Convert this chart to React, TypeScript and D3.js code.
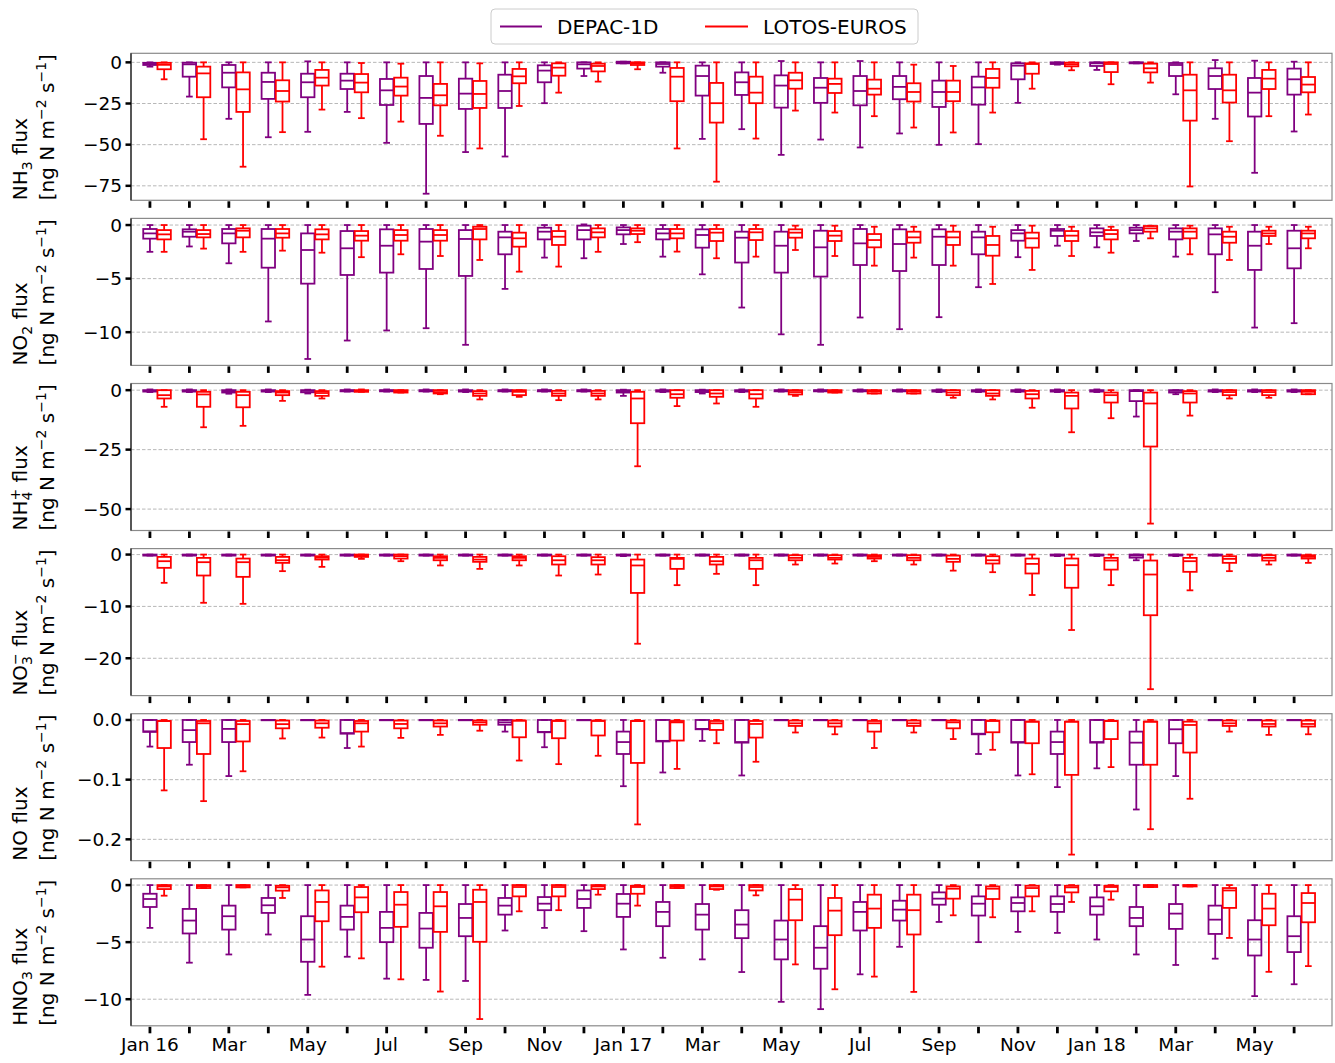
import React from "react";
import * as d3 from "d3";

// ---- categories / labels ----
const monthLabels = ["Jan 16","","Mar","","May","","Jul","","Sep","","Nov","","Jan 17","","Mar","","May","","Jul","","Sep","","Nov","","Jan 18","","Mar","","May",""];
const seriesNames = ["DEPAC-1D", "LOTOS-EUROS"];
const seriesColors = ["#800080", "#ff0000"];

// ---- box stats: [whiskerLow, q1, median, q3, whiskerHigh] ----
const nh3Depac = [
  [-2.6,-1.6,-1.0,-0.3,0],[-20.8,-8.7,-1.2,-0.2,0],[-34.3,-15.2,-6.3,-1.6,0],[-45.5,-22.2,-11.9,-6.3,0],
  [-42.2,-21.2,-12.1,-6.9,0.6],[-30.1,-16.2,-11.1,-6.9,0],[-48.9,-25.9,-17.0,-10.1,0],[-79.8,-37.4,-21.6,-8.3,0],
  [-54.5,-28.3,-19.0,-9.9,0],[-57.2,-27.7,-17.4,-7.5,0],[-24.8,-12.1,-5.0,-1.8,0],[-8.3,-3.8,-1.2,0,0],
  [-0.6,-0.6,-0.2,0.4,0.4],[-6.3,-2.6,-1.0,0,0],[-46.5,-20.2,-8.3,-2.0,0],[-40.6,-19.8,-12.1,-6.1,0],
  [-56.2,-27.5,-14.1,-7.9,0.8],[-46.9,-24.6,-15.4,-9.5,0],[-51.7,-26.1,-17.4,-8.3,0.8],[-43.2,-22.4,-14.9,-8.3,0],
  [-50.1,-27.1,-18.0,-11.1,0],[-49.7,-25.7,-15.2,-8.7,0],[-24.6,-10.3,-2.0,-0.6,0],[-1.4,-1.0,-0.5,0,0],
  [-4.6,-2.2,-0.6,0,0],[-0.6,-0.6,-0.2,0,0],[-19.4,-8.3,-1.6,-0.4,0],[-34.3,-16.2,-8.3,-3.6,1.4],
  [-67.1,-32.9,-18.4,-9.5,1.0],[-42.0,-19.6,-10.3,-3.8,0.4]
];
const nh3Lotos = [
  [-10.3,-4.2,-1.5,-0.3,0],[-46.7,-21.2,-6.7,-2.6,0],[-63.4,-30.1,-16.4,-6.1,0],[-42.4,-23.8,-17.4,-10.9,0],
  [-28.7,-14.1,-9.3,-4.6,0],[-33.9,-18.2,-12.3,-7.1,-0.4],[-36.0,-20.2,-14.7,-9.3,-0.8],[-44.6,-26.1,-20.0,-13.1,0],
  [-52.3,-27.7,-19.2,-11.3,-0.6],[-26.5,-12.7,-8.5,-4.0,0],[-18.4,-8.1,-3.2,-0.6,0],[-11.7,-5.5,-2.2,-0.8,0],
  [-4.2,-1.6,-0.6,0,0],[-52.3,-23.6,-8.7,-3.4,0],[-72.5,-36.6,-24.8,-12.5,0],[-46.3,-24.8,-18.4,-8.7,0],
  [-29.3,-16.0,-10.9,-6.3,0],[-30.5,-18.6,-13.1,-9.9,0],[-32.7,-19.6,-16.0,-10.5,0],[-39.6,-23.8,-18.0,-12.7,-1.4],
  [-42.6,-23.6,-18.0,-11.1,-2.2],[-30.5,-15.4,-9.5,-4.0,0],[-16.0,-6.9,-1.0,-0.6,0],[-4.8,-2.4,-1.2,-0.2,0],
  [-13.3,-5.9,-1.0,0,0],[-12.3,-6.1,-3.6,-0.8,0],[-75.4,-35.4,-17.0,-7.5,0],[-47.9,-24.4,-17.0,-7.5,0],
  [-32.7,-16.2,-9.9,-4.6,0],[-31.7,-18.2,-13.5,-8.9,0]
];
const no2Depac = [
  [-2.5,-1.27,-0.78,-0.37,0],[-2.0,-1.09,-0.62,-0.4,0],[-3.57,-1.71,-0.78,-0.37,0],[-9.0,-3.98,-1.27,-0.37,0],
  [-12.5,-5.47,-2.33,-0.78,0],[-10.78,-4.66,-2.17,-0.56,0],[-9.84,-4.44,-1.93,-0.4,0],[-9.63,-4.1,-1.55,-0.37,0],
  [-11.18,-4.75,-1.3,-0.47,0],[-5.96,-2.73,-1.15,-0.62,0],[-3.04,-1.34,-0.62,-0.25,0],[-3.1,-1.34,-0.47,-0.06,0.06],
  [-1.77,-0.87,-0.47,-0.22,0],[-2.95,-1.34,-0.78,-0.37,0],[-4.6,-2.11,-0.93,-0.4,0],[-7.7,-3.5,-1.18,-0.62,0],
  [-10.2,-4.44,-1.93,-0.62,0],[-11.18,-4.81,-2.08,-0.53,0],[-8.63,-3.73,-1.71,-0.37,0],[-9.72,-4.29,-1.77,-0.4,0],
  [-8.6,-3.73,-1.09,-0.4,0],[-5.8,-2.73,-1.15,-0.62,0],[-3.0,-1.46,-0.78,-0.47,0],[-1.93,-1.02,-0.53,-0.37,0],
  [-2.08,-1.02,-0.68,-0.31,0],[-1.49,-0.78,-0.47,-0.25,0],[-2.95,-1.34,-0.62,-0.31,0],[-6.27,-2.73,-0.87,-0.31,0],
  [-9.57,-4.19,-1.93,-0.62,0],[-9.16,-4.04,-2.17,-0.53,0]
];
const no2Lotos = [
  [-2.5,-1.34,-0.87,-0.47,0],[-2.2,-1.15,-0.84,-0.47,0],[-2.5,-1.15,-0.53,-0.31,0],[-2.39,-1.18,-0.78,-0.37,0],
  [-2.58,-1.34,-0.87,-0.4,0],[-3.0,-1.46,-0.99,-0.56,0],[-2.73,-1.46,-0.93,-0.47,0],[-2.89,-1.46,-0.93,-0.47,0],
  [-3.26,-1.34,-0.37,-0.16,0],[-4.35,-2.02,-1.24,-0.71,0],[-3.88,-1.86,-1.09,-0.56,0],[-2.5,-1.15,-0.68,-0.31,0],
  [-1.6,-0.84,-0.53,-0.31,0],[-2.48,-1.24,-0.78,-0.37,0],[-3.1,-1.49,-0.71,-0.37,0],[-2.95,-1.4,-0.68,-0.37,0],
  [-2.33,-1.18,-0.71,-0.4,-0.06],[-2.89,-1.49,-0.99,-0.56,-0.06],[-3.79,-2.08,-1.4,-0.84,-0.16],[-3.04,-1.65,-1.15,-0.62,-0.16],
  [-3.79,-1.86,-1.15,-0.62,-0.06],[-5.5,-2.86,-1.86,-1.02,-0.16],[-4.19,-2.11,-1.24,-0.71,-0.06],[-2.89,-1.49,-0.99,-0.56,-0.16],
  [-2.58,-1.34,-0.84,-0.47,-0.16],[-1.24,-0.62,-0.31,-0.09,-0.06],[-2.73,-1.24,-0.62,-0.31,-0.06],[-3.26,-1.65,-1.09,-0.62,-0.16],
  [-1.77,-1.02,-0.78,-0.53,-0.16],[-2.17,-1.24,-0.78,-0.53,-0.16]
];
const nh4Depac = [
  [-0.8,-0.6,-0.3,0,0.3],[-0.8,-0.6,-0.3,0,0.3],[-1.5,-1.0,-0.4,0,0.3],[-0.8,-0.6,-0.3,0,0.3],
  [-1.4,-0.9,-0.3,0,0.2],[-0.6,-0.5,-0.2,0,0.3],[-0.6,-0.5,-0.2,0,0.3],[-0.6,-0.5,-0.2,0,0.3],
  [-0.8,-0.6,-0.3,0,0.3],[-0.6,-0.5,-0.2,0,0.3],[-0.6,-0.5,-0.2,0,0.3],[-0.6,-0.5,-0.2,0,0.3],
  [-2.4,-1.0,-0.4,0,0.2],[-0.8,-0.6,-0.3,0,0.3],[-1.4,-0.8,-0.3,0,0.2],[-0.8,-0.6,-0.3,0,0.3],
  [-0.6,-0.5,-0.2,0,0.3],[-0.6,-0.5,-0.2,0,0.3],[-0.6,-0.5,-0.2,0,0.3],[-0.6,-0.5,-0.2,0,0.3],
  [-0.8,-0.6,-0.3,0,0.3],[-0.8,-0.6,-0.3,0,0.3],[-0.8,-0.6,-0.3,0,0.3],[-0.8,-0.6,-0.3,0,0.3],
  [-0.8,-0.6,-0.3,0,0.3],[-11.1,-4.6,-0.4,0,0],[-1.7,-1.0,-0.3,0,0],[-0.8,-0.6,-0.3,0,0.3],
  [-0.8,-0.6,-0.3,0,0.3],[-0.8,-0.6,-0.3,0,0.3]
];
const nh4Lotos = [
  [-7.0,-3.5,-2.1,0,0],[-15.6,-7.0,-1.8,-0.7,0],[-15.0,-7.2,-2.1,-0.7,0],[-4.5,-2.1,-1.0,-0.4,0],
  [-3.5,-2.4,-1.2,-0.4,0],[-0.7,-0.7,-0.3,0,0.3],[-1.0,-1.0,-0.5,0,0],[-1.7,-1.4,-0.8,0,0],
  [-3.9,-2.4,-1.4,-0.4,0],[-2.8,-2.1,-0.7,0,0],[-4.2,-2.4,-1.4,-0.3,0],[-3.9,-2.4,-1.4,-0.3,0],
  [-32.0,-13.9,-3.5,-0.7,0],[-6.7,-3.2,-1.7,0,0],[-5.6,-2.8,-1.4,0,0],[-7.0,-3.5,-1.7,0,0],
  [-2.4,-1.8,-0.8,0,0],[-1.0,-1.0,-0.4,0,0],[-1.4,-1.4,-0.6,0,0],[-1.4,-1.4,-0.6,0,0],
  [-3.2,-2.1,-1.0,0,0],[-3.9,-2.4,-1.4,0,0],[-7.4,-3.5,-1.7,-0.3,0],[-17.7,-7.7,-2.4,-1.0,0],
  [-11.8,-5.2,-2.1,-1.0,0],[-56.1,-23.7,-5.6,-1.0,0],[-10.7,-5.2,-1.4,-0.4,0],[-3.5,-2.1,-0.8,0,0],
  [-3.2,-2.1,-0.8,0,0],[-1.7,-1.7,-0.7,0,0]
];
const no3Depac = [
  [-0.2,-0.2,-0.1,0,0],[-0.2,-0.2,-0.1,0,0],[-0.2,-0.2,-0.1,0,0],[-0.2,-0.2,-0.1,0,0],
  [-0.2,-0.2,-0.1,0,0],[-0.2,-0.2,-0.1,0,0],[-0.2,-0.2,-0.1,0,0],[-0.2,-0.2,-0.1,0,0],
  [-0.2,-0.2,-0.1,0,0],[-0.2,-0.2,-0.1,0,0],[-0.2,-0.2,-0.1,0,0],[-0.2,-0.2,-0.1,0,0],
  [-0.3,-0.2,-0.1,0,0],[-0.2,-0.2,-0.1,0,0],[-0.2,-0.2,-0.1,0,0],[-0.2,-0.2,-0.1,0,0],
  [-0.2,-0.2,-0.1,0,0],[-0.2,-0.2,-0.1,0,0],[-0.2,-0.2,-0.1,0,0],[-0.2,-0.2,-0.1,0,0],
  [-0.2,-0.2,-0.1,0,0],[-0.2,-0.2,-0.1,0,0],[-0.2,-0.2,-0.1,0,0],[-0.3,-0.2,-0.1,0,0],
  [-0.3,-0.2,-0.1,0,0],[-1.1,-0.6,-0.2,0,0],[-0.3,-0.2,-0.1,0,0],[-0.2,-0.2,-0.1,0,0],
  [-0.2,-0.2,-0.1,0,0],[-0.2,-0.2,-0.1,0,0]
];
const no3Lotos = [
  [-5.45,-2.56,-1.28,-0.45,0],[-9.3,-4.04,-1.47,-0.64,0],[-9.5,-4.3,-1.47,-0.77,0],[-3.2,-1.6,-1.1,-0.45,0],
  [-2.37,-0.96,-0.6,-0.32,0],[-0.83,-0.45,-0.2,0,0],[-1.28,-0.77,-0.3,0,0],[-2.1,-1.1,-0.64,-0.32,0],
  [-2.76,-1.4,-0.96,-0.45,0],[-2.1,-1.1,-0.64,-0.32,0],[-4.04,-1.92,-1.1,-0.32,0],[-3.85,-1.92,-1.1,-0.5,0],
  [-17.2,-7.4,-2.1,-0.96,0],[-5.9,-2.76,-0.83,-0.64,0],[-3.72,-1.92,-1.28,-0.45,0],[-5.9,-2.76,-1.1,-0.64,0],
  [-1.92,-1.1,-0.64,-0.13,0],[-1.73,-0.96,-0.64,-0.13,0],[-1.28,-0.77,-0.45,-0.13,0],[-1.92,-1.1,-0.64,-0.13,0],
  [-3.1,-1.4,-0.83,-0.2,0],[-3.4,-1.73,-1.1,-0.32,0],[-7.8,-3.65,-1.8,-0.77,0],[-14.55,-6.4,-2.05,-0.77,0],
  [-5.9,-2.9,-1.15,-0.64,0],[-25.96,-11.7,-3.85,-1.15,0],[-6.9,-3.33,-1.28,-0.64,0],[-3.2,-1.6,-0.83,-0.32,0],
  [-1.92,-1.15,-0.64,-0.13,0],[-1.6,-0.77,-0.45,-0.13,0]
];
const noDepac = [
  [-0.0446,-0.02,-0.019,0,0],[-0.075,-0.037,-0.017,0,0],[-0.094,-0.037,-0.015,0,0],[0,0,0,0,0],
  [0,0,0,0,0],[-0.047,-0.023,-0.022,0,0],[0,0,0,0,0],[0,0,0,0,0],
  [0,0,0,0,0],[-0.0195,-0.008,-0.004,0,0],[-0.0457,-0.0206,-0.02,0,0],[0,0,0,0,0],
  [-0.111,-0.057,-0.037,-0.0195,0],[-0.088,-0.036,-0.035,0,0],[-0.035,-0.0156,-0.015,0,0],[-0.093,-0.038,-0.037,0,0],
  [0,0,0,0,0],[0,0,0,0,0],[0,0,0,0,0],[0,0,0,0,0],
  [0,0,0,0,0],[-0.057,-0.024,-0.023,0,0],[-0.093,-0.038,-0.037,0,0],[-0.1125,-0.057,-0.037,-0.0195,0],
  [-0.081,-0.038,-0.037,0,0],[-0.15,-0.075,-0.038,-0.0195,0],[-0.094,-0.039,-0.0156,0,0],[0,0,0,0,0],
  [0,0,0,0,0],[0,0,0,0,0]
];
const noLotos = [
  [-0.118,-0.047,-0.0017,-0.0017,0],[-0.136,-0.057,-0.0056,-0.0017,0],[-0.086,-0.036,-0.007,-0.0017,0],[-0.031,-0.014,-0.007,-0.001,0],
  [-0.0295,-0.013,-0.0056,-0.001,0],[-0.0446,-0.0195,-0.0056,-0.0017,0],[-0.03,-0.014,-0.0067,-0.001,0],[-0.025,-0.011,-0.0056,-0.001,0],
  [-0.018,-0.008,-0.004,-0.001,0],[-0.068,-0.029,-0.001,-0.001,0],[-0.074,-0.0306,-0.0017,-0.001,0],[-0.06,-0.026,-0.0017,-0.001,0],
  [-0.175,-0.072,-0.0017,-0.0017,0],[-0.082,-0.0345,-0.004,-0.0017,0],[-0.039,-0.0167,-0.0056,-0.0017,0],[-0.07,-0.0295,-0.0067,-0.0017,0],
  [-0.021,-0.01,-0.0056,-0.001,0],[-0.024,-0.011,-0.0056,-0.001,0],[-0.047,-0.0195,-0.0056,-0.0017,0],[-0.021,-0.01,-0.0056,-0.001,0],
  [-0.032,-0.014,-0.004,-0.001,0],[-0.05,-0.0206,-0.0017,-0.001,0],[-0.091,-0.039,-0.0028,-0.0028,0],[-0.2256,-0.092,-0.0028,-0.0028,0],
  [-0.079,-0.032,-0.0017,-0.0017,0],[-0.183,-0.075,-0.0028,-0.0028,0],[-0.132,-0.0546,-0.0084,-0.0028,0],[-0.0195,-0.01,-0.0056,-0.001,0],
  [-0.025,-0.011,-0.0067,-0.001,0],[-0.024,-0.011,-0.0067,-0.001,0]
];
const hno3Depac = [
  [-3.75,-1.92,-1.22,-0.76,0],[-6.8,-4.24,-3.11,-2.09,0],[-6.08,-3.9,-2.73,-1.8,0],[-4.33,-2.44,-1.77,-1.13,0],
  [-9.62,-6.72,-4.77,-2.73,0],[-6.28,-3.9,-2.79,-1.8,0],[-8.2,-5.0,-3.75,-2.35,0],[-8.31,-5.49,-3.81,-2.44,0],
  [-8.4,-4.48,-2.88,-1.66,0],[-3.98,-2.59,-1.8,-1.13,0],[-3.75,-2.2,-1.63,-1.05,0],[-4.04,-2.0,-1.22,-0.47,0],
  [-5.64,-2.79,-1.63,-0.78,0],[-6.37,-3.6,-2.35,-1.48,0],[-6.51,-3.9,-2.59,-1.66,0],[-7.62,-4.65,-3.46,-2.2,0],
  [-10.23,-6.51,-4.77,-3.11,0],[-10.87,-7.33,-5.49,-3.6,0],[-7.82,-3.98,-2.35,-1.48,0],[-5.41,-3.11,-2.15,-1.37,0],
  [-3.23,-1.72,-1.19,-0.64,0],[-5.0,-2.67,-1.63,-0.99,0],[-4.1,-2.3,-1.57,-1.08,0],[-4.19,-2.35,-1.66,-0.99,0],
  [-4.77,-2.59,-1.86,-1.08,0],[-6.08,-3.6,-2.88,-1.92,0],[-7.0,-3.84,-2.5,-1.66,0],[-6.45,-4.28,-3.03,-1.8,0],
  [-9.73,-6.17,-4.77,-3.08,0],[-8.69,-5.87,-4.48,-2.73,0]
];
const hno3Lotos = [
  [-0.93,-0.35,-0.12,0,0],[-0.26,-0.26,-0.1,0,0],[-0.2,-0.2,-0.08,0,0],[-1.13,-0.49,-0.2,-0.06,0],
  [-7.15,-3.17,-1.48,-0.47,0],[-6.42,-2.38,-1.08,-0.17,0],[-8.26,-3.66,-1.72,-0.61,0],[-9.33,-4.1,-1.86,-0.61,0],
  [-11.74,-4.97,-1.48,-0.41,0],[-2.3,-0.99,-0.17,0,0],[-2.2,-0.99,-0.17,0,0],[-0.84,-0.35,-0.12,0,0],
  [-1.8,-0.76,-0.17,-0.06,0],[-0.26,-0.26,-0.1,0,0],[-0.41,-0.35,-0.12,0,0],[-0.9,-0.47,-0.17,0,0],
  [-6.95,-3.08,-1.28,-0.35,0],[-9.13,-4.39,-2.24,-1.13,0],[-8.02,-3.75,-2.06,-0.84,0],[-9.36,-4.33,-2.2,-0.84,0],
  [-2.65,-1.19,-0.32,-0.12,0],[-2.82,-1.22,-0.32,-0.12,0],[-2.3,-0.99,-0.26,-0.06,0],[-1.48,-0.64,-0.2,-0.06,0],
  [-1.28,-0.55,-0.17,-0.06,0],[-0.17,-0.17,-0.06,0,0],[-0.12,-0.12,-0.04,0,0],[-4.63,-2.0,-0.47,-0.26,0],
  [-7.6,-3.52,-2.06,-0.76,0],[-7.1,-3.26,-1.57,-0.7,0]
];

// ---- axis domains and tick values ----
const yDomains = [[-83.8, 5.5], [-13.1, 0.62], [-59.0, 2.8], [-27.2, 1.15], [-0.2358, 0.0105], [-12.33, 0.55]];
const yTicks = [[0, -25, -50, -75], [0, -5, -10], [0, -25, -50], [0, -10, -20], [0, -0.1, -0.2], [0, -5, -10]];
const yTickFormats = ["d", "d", "d", "d", ".1f", "d"];
const speciesBase = ["NH", "NO", "NH", "NO", "NO", "HNO"];
const speciesSub = ["3", "2", "4", "3", "", "3"];
const speciesSup = ["", "", "+", "\u2212", "", ""];

const depacSeries = [nh3Depac, no2Depac, nh4Depac, no3Depac, noDepac, hno3Depac];
const lotosSeries = [nh3Lotos, no2Lotos, nh4Lotos, no3Lotos, noLotos, hno3Lotos];

const FONT = "DejaVu Sans, Liberation Sans, sans-serif";
const W = 1335, H = 1063;
const LEFT = 131, RIGHT = 1332;
const PANEL_TOP0 = 53.3, PANEL_STEP = 165.1, PANEL_H = 147;
const BOX_W = 0.34, OFFSET = 0.36;
const LABEL_HALF = 73.5;

const xScale = d3.scaleLinear().domain([-0.48, 29.96]).range([LEFT, RIGHT]);

function Box({ stats, cx, y, w, color }: any) {
  const [wl, q1, med, q3, wh] = stats;
  const cap = w / 2;
  const top = y(q3), bot = y(q1);
  return (
    <g stroke={color} strokeWidth={1.8} fill="none">
      <line x1={cx} x2={cx} y1={bot} y2={y(wl)} />
      <line x1={cx} x2={cx} y1={top} y2={y(wh)} />
      <line x1={cx - cap / 2} x2={cx + cap / 2} y1={y(wl)} y2={y(wl)} />
      <line x1={cx - cap / 2} x2={cx + cap / 2} y1={y(wh)} y2={y(wh)} />
      <rect x={cx - w / 2} y={top} width={w} height={Math.max(bot - top, 0.3)} />
      <line x1={cx - w / 2} x2={cx + w / 2} y1={y(med)} y2={y(med)} />
    </g>
  );
}

function YLabel({ k, cy }: any) {
  const base = speciesBase[k], sub = speciesSub[k], sup = speciesSup[k];
  const start = cy + LABEL_HALF;
  return (
    <g fontFamily={FONT} fill="#000">
      <text transform={`translate(27,${start}) rotate(-90)`} textAnchor="start" fontSize={20}>
        <tspan>{base}</tspan>
        {sub && <tspan fontSize={14} dy={5}>{sub}</tspan>}
        {sup && <tspan fontSize={14} dx={-8.9} dy={-12}>{sup}</tspan>}
        <tspan dy={sub ? (sup ? 7 : -5) : 0}>{" flux"}</tspan>
      </text>
      <text transform={`translate(54,${start}) rotate(-90)`} textAnchor="start" fontSize={20}>
        <tspan>{"[ng N m"}</tspan>
        <tspan fontSize={14} dy={-8}>{"\u22122"}</tspan>
        <tspan dy={8}>{" s"}</tspan>
        <tspan fontSize={14} dy={-8}>{"\u22121"}</tspan>
        <tspan dy={8}>{"]"}</tspan>
      </text>
    </g>
  );
}

function Panel({ k }: any) {
  const top = PANEL_TOP0 + k * PANEL_STEP;
  const bottom = top + PANEL_H;
  const y = d3.scaleLinear().domain(yDomains[k]).range([bottom, top]);
  const fmt = d3.format(yTickFormats[k]);
  const months = d3.range(monthLabels.length);
  const bw = xScale(BOX_W) - xScale(0);
  return (
    <g>
      {yTicks[k].map((t) => (
        <line key={"g" + t} x1={LEFT} x2={RIGHT} y1={y(t)} y2={y(t)} stroke="#b0b0b0" strokeWidth={0.9} strokeDasharray="3.5,2" />
      ))}
      {months.map((i) => (
        <g key={i}>
          <Box stats={depacSeries[k][i]} cx={xScale(i)} y={y} w={bw} color={seriesColors[0]} />
          <Box stats={lotosSeries[k][i]} cx={xScale(i + OFFSET)} y={y} w={bw} color={seriesColors[1]} />
        </g>
      ))}
      <rect x={LEFT} y={top} width={RIGHT - LEFT} height={PANEL_H} fill="none" stroke="#8a8a8a" strokeWidth={1.2} />
      <line x1={LEFT} x2={LEFT} y1={top} y2={bottom} stroke="#222" strokeWidth={1.3} />
      {yTicks[k].map((t) => (
        <g key={"t" + t}>
          <line x1={LEFT - 5.5} x2={LEFT} y1={y(t)} y2={y(t)} stroke="#000" strokeWidth={2.5} />
          <text x={LEFT - 9} y={y(t)} dy="0.35em" textAnchor="end" fontFamily={FONT} fontSize={18.5} fill="#000">
            {fmt(t).replace("-", "\u2212")}
          </text>
        </g>
      ))}
      {months.map((i) => (
        <line key={"x" + i} x1={xScale(i)} x2={xScale(i)} y1={bottom + 1} y2={bottom + 7.5} stroke="#000" strokeWidth={2.8} />
      ))}
      <YLabel k={k} cy={(top + bottom) / 2} />
    </g>
  );
}

export default function App() {
  const lastBottom = PANEL_TOP0 + 5 * PANEL_STEP + PANEL_H;
  return (
    <div style={{ position: "absolute", left: 0, top: 0 }}>
      <svg width={W} height={H} style={{ display: "block", background: "#fff" }}>
        {d3.range(6).map((k) => <Panel key={k} k={k} />)}
        {monthLabels.map((lab, i) =>
          lab ? (
            <text key={"ml" + i} x={xScale(i)} y={lastBottom + 25} textAnchor="middle" fontFamily={FONT} fontSize={18.5} fill="#000">
              {lab}
            </text>
          ) : null
        )}
        <g>
          <rect x={491} y={9} width={427} height={35} rx={4} fill="#fff" stroke="#cccccc" strokeWidth={1} />
          <line x1={500} x2={542} y1={26.5} y2={26.5} stroke={seriesColors[0]} strokeWidth={1.8} />
          <text x={557} y={33.5} fontFamily={FONT} fontSize={20} fill="#000">{seriesNames[0]}</text>
          <line x1={705} x2={748} y1={26.5} y2={26.5} stroke={seriesColors[1]} strokeWidth={1.8} />
          <text x={763} y={33.5} fontFamily={FONT} fontSize={20} fill="#000">{seriesNames[1]}</text>
        </g>
      </svg>
    </div>
  );
}
